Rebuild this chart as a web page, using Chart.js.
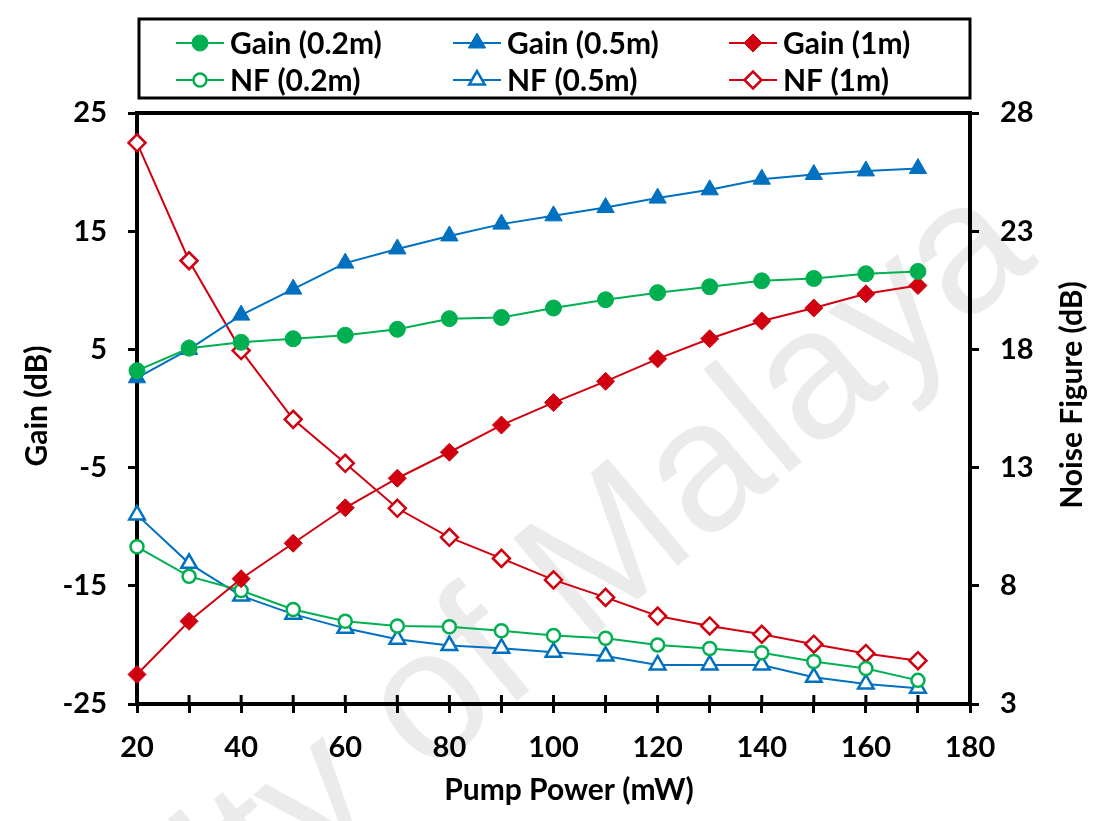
<!DOCTYPE html>
<html>
<head>
<meta charset="utf-8">
<title>Gain and noise figure vs pump power</title>
<script src="https://cdn.jsdelivr.net/npm/chart.js@4.4.1/dist/chart.umd.min.js"></script>
<style>
  html, body { margin: 0; padding: 0; background: #fff; }
  #wrap { width: 1093px; height: 821px; }
</style>
</head>
<body>
<div id="wrap"><canvas id="chart" width="1093" height="821"></canvas></div>
<script>
'use strict';

// DATA
var power = [20, 30, 40, 50, 60, 70, 80, 90, 100, 110, 120, 130, 140, 150, 160, 170];

var gain02 = [3.2, 5.1, 5.6, 5.9, 6.2, 6.7, 7.6, 7.7, 8.5, 9.2, 9.8, 10.3, 10.8, 11.0, 11.4, 11.6];
var gain05 = [2.6, 5.0, 7.9, 10.1, 12.3, 13.5, 14.6, 15.6, 16.3, 17.0, 17.8, 18.5, 19.4, 19.8, 20.1, 20.3];
var gain1  = [-22.5, -18.0, -14.4, -11.4, -8.4, -5.9, -3.7, -1.4, 0.5, 2.3, 4.2, 5.9, 7.4, 8.5, 9.7, 10.4];

var nf02 = [9.65, 8.4, 7.8, 7.0, 6.5, 6.3, 6.27, 6.1, 5.9, 5.78, 5.5, 5.35, 5.17, 4.8, 4.5, 4.0];
var nf05 = [11.0, 8.95, 7.57, 6.8, 6.2, 5.74, 5.47, 5.36, 5.19, 5.03, 4.65, 4.65, 4.65, 4.13, 3.85, 3.67];
var nf1  = [26.74, 21.75, 17.95, 15.04, 13.18, 11.28, 10.05, 9.16, 8.25, 7.51, 6.72, 6.30, 5.95, 5.53, 5.14, 4.83];

var seriesNames = ['Gain (0.2m)', 'Gain (0.5m)', 'Gain (1m)', 'NF (0.2m)', 'NF (0.5m)', 'NF (1m)'];

var xTitle = 'Pump Power (mW)';
var yTitle = 'Gain (dB)';
var y2Title = 'Noise Figure (dB)';

// COLOURS / FONTS
var GREEN = '#00b050';
var BLUE = '#0070c0';
var RED = '#d00010';
var FONT = 'Lato, "Open Sans", sans-serif';

function pairs(ys) {
   return ys.map(function (v, i) { return { x: power[i], y: v }; });
}

function makeSet(label, data, color, style, radius, filled, axis) {
   return {
      label: label,
      data: pairs(data),
      yAxisID: axis,
      borderColor: color,
      backgroundColor: color,
      borderWidth: 2,
      tension: 0,
      clip: false,
      pointStyle: style,
      pointRadius: radius,
      pointHoverRadius: radius,
      pointBackgroundColor: filled ? color : '#ffffff',
      pointBorderColor: color,
      pointBorderWidth: filled ? 1 : 2.5
   };
}

var datasets = [
   makeSet(seriesNames[0], gain02, GREEN, 'circle', 8, true, 'y'),
   makeSet(seriesNames[1], gain05, BLUE, 'triangle', 10, true, 'y'),
   makeSet(seriesNames[2], gain1, RED, 'rectRot', 9, true, 'y'),
   makeSet(seriesNames[3], nf02, GREEN, 'circle', 6.5, false, 'y2'),
   makeSet(seriesNames[4], nf05, BLUE, 'triangle', 9, false, 'y2'),
   makeSet(seriesNames[5], nf1, RED, 'rectRot', 8.5, false, 'y2')
];

// marker drawing for the legend
function drawMarker(ctx, ds, x, y) {
   var r = ds.pointRadius;
   ctx.save();
   ctx.fillStyle = ds.pointBackgroundColor;
   ctx.strokeStyle = ds.pointBorderColor;
   ctx.lineWidth = ds.pointBorderWidth;
   ctx.beginPath();
   if (ds.pointStyle === 'circle') {
      ctx.arc(x, y, r, 0, Math.PI * 2);
   } else if (ds.pointStyle === 'triangle') {
      ctx.moveTo(x, y - r);
      ctx.lineTo(x + r * Math.sin(Math.PI * 2 / 3), y + r / 2);
      ctx.lineTo(x - r * Math.sin(Math.PI * 2 / 3), y + r / 2);
   } else {
      ctx.moveTo(x - r, y);
      ctx.lineTo(x, y - r);
      ctx.lineTo(x + r, y);
      ctx.lineTo(x, y + r);
   }
   ctx.closePath();
   ctx.fill();
   ctx.stroke();
   ctx.restore();
}

// watermark behind everything
var watermarkPlugin = {
   id: 'watermark',
   beforeDraw: function (chart) {
      var ctx = chart.ctx;
      ctx.save();
      ctx.translate(1040, 262);
      ctx.rotate(-40 * Math.PI / 180);
      ctx.font = '185px "Liberation Sans", Arial, sans-serif';
      ctx.fillStyle = 'rgba(0,0,0,0.08)';
      ctx.textAlign = 'right';
      ctx.textBaseline = 'alphabetic';
      ctx.fillText('University of Malaya', 0, 0);
      ctx.restore();
   }
};

// top frame line, inward x ticks
var framePlugin = {
   id: 'frame',
   beforeDatasetsDraw: function (chart) {
      var ctx = chart.ctx, a = chart.chartArea, sx = chart.scales.x;
      ctx.save();
      ctx.strokeStyle = '#000';
      ctx.lineWidth = 4;
      ctx.beginPath();
      ctx.moveTo(a.left - 2, a.top);
      ctx.lineTo(a.right + 2, a.top);
      ctx.stroke();
      ctx.lineWidth = 3;
      sx.ticks.forEach(function (t) {
         var px = sx.getPixelForValue(t.value);
         ctx.beginPath();
         ctx.moveTo(px, a.bottom);
         ctx.lineTo(px, a.bottom - 9);
         ctx.stroke();
      });
      ctx.restore();
   }
};

// axis titles
var titlePlugin = {
   id: 'titles',
   afterDraw: function (chart) {
      var ctx = chart.ctx;
      ctx.save();
      ctx.fillStyle = '#000';
      ctx.font = 'bold 30px ' + FONT;
      ctx.textAlign = 'center';
      ctx.textBaseline = 'middle';
      ctx.fillText(xTitle, 569, 790);
      ctx.save();
      ctx.translate(37, 406);
      ctx.rotate(-Math.PI / 2);
      ctx.fillText(yTitle, 0, 0);
      ctx.restore();
      ctx.save();
      ctx.translate(1072, 395);
      ctx.rotate(-Math.PI / 2);
      ctx.fillText(y2Title, 0, 0);
      ctx.restore();
      ctx.restore();
   }
};

// boxed legend, 3 columns x 2 rows
var legendPlugin = {
   id: 'boxLegend',
   afterDraw: function (chart) {
      var ctx = chart.ctx;
      var colX = [200, 477, 753];
      var rowY = [43, 80];
      ctx.save();
      ctx.strokeStyle = '#000';
      ctx.lineWidth = 3;
      ctx.strokeRect(139, 19, 831, 79);
      ctx.font = 'bold 30px ' + FONT;
      ctx.textAlign = 'left';
      ctx.textBaseline = 'middle';
      chart.data.datasets.forEach(function (ds, i) {
         var x = colX[i % 3], y = rowY[Math.floor(i / 3)];
         ctx.strokeStyle = ds.borderColor;
         ctx.lineWidth = 2;
         ctx.beginPath();
         ctx.moveTo(x - 24, y);
         ctx.lineTo(x + 24, y);
         ctx.stroke();
         drawMarker(ctx, ds, x, y);
         ctx.fillStyle = '#000';
         ctx.fillText(ds.label, x + 30, y + 1);
      });
      ctx.restore();
   }
};

var tickFont = { family: FONT, size: 29, weight: 'bold' };

var config = {
   type: 'line',
   data: { datasets: datasets },
   options: {
      responsive: false,
      devicePixelRatio: 1,
      animation: false,
      layout: { padding: { top: 113, left: 0, right: 0, bottom: 0 } },
      plugins: {
         legend: { display: false },
         tooltip: { enabled: false }
      },
      scales: {
         x: {
            type: 'linear',
            min: 20,
            max: 180,
            afterFit: function (s) { s.height = 117; },
            border: { display: true, color: '#000', width: 4 },
            grid: { drawOnChartArea: false, drawTicks: true, tickLength: 9, color: '#000', lineWidth: 3 },
            ticks: {
               stepSize: 10,
               autoSkip: false,
               maxRotation: 0,
               padding: 17,
               color: '#000',
               font: tickFont,
               callback: function (v) { return v % 20 === 0 ? v : ''; }
            }
         },
         y: {
            position: 'left',
            min: -25,
            max: 25,
            afterFit: function (s) { s.width = 137; },
            border: { display: true, color: '#000', width: 4 },
            grid: { drawOnChartArea: false, drawTicks: true, tickLength: 9, color: '#000', lineWidth: 3 },
            ticks: { stepSize: 10, padding: 21, color: '#000', font: tickFont }
         },
         y2: {
            position: 'right',
            min: 3,
            max: 28,
            afterFit: function (s) { s.width = 123; },
            border: { display: true, color: '#000', width: 4 },
            grid: { drawOnChartArea: false, drawTicks: true, tickLength: 9, color: '#000', lineWidth: 3 },
            ticks: { stepSize: 5, padding: 21, color: '#000', font: tickFont }
         }
      }
   },
   plugins: [watermarkPlugin, framePlugin, titlePlugin, legendPlugin]
};

var chart = new Chart(document.getElementById('chart'), config);
</script>
</body>
</html>
